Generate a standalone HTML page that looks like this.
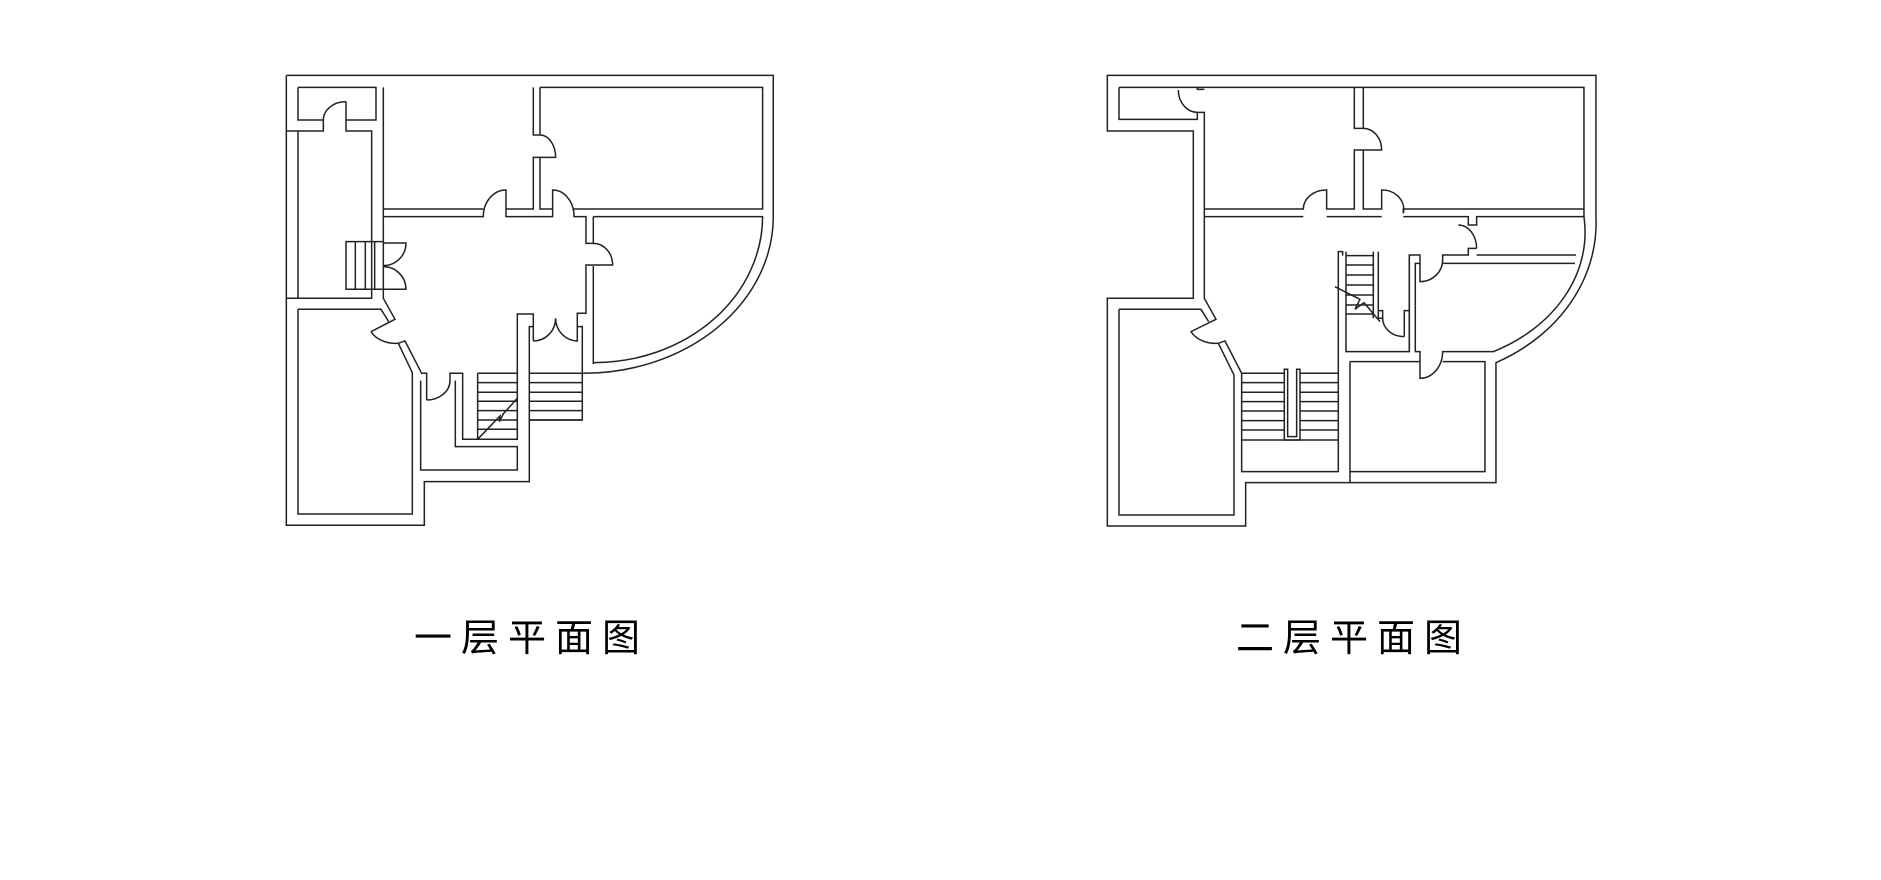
<!DOCTYPE html>
<html><head><meta charset="utf-8"><style>
html,body{margin:0;padding:0;background:#fff;}
svg{display:block;}
text{font-family:"Liberation Sans","Noto Sans CJK SC",sans-serif;}
path,line,rect{vector-effect:non-scaling-stroke;}
</style></head><body>
<svg width="1881" height="880" viewBox="0 0 1881 880" xmlns="http://www.w3.org/2000/svg">
<rect width="1881" height="880" fill="#fff"/>
<g transform="translate(270,60) scale(0.3333)" fill="none" stroke="#222" stroke-width="1.5">
<path d="M49,46 H1510 V470 A570,470 0 0 1 940,940"/>
<path d="M49,46 V1396 H463 V1265 H778 V800 H790 V843"/>
<path d="M49,213 H160 V180 M228,180 V213 H305 V715 H49 M84,82 H318 V180 H228 V125 M84,82 V180 H160 M160,180 A68,55 0 0 1 228,125"/>
<path d="M84,213 V715 M340,82 V545 M340,688 V715 L375,778 L303,815 M303,815 A82,60 0 0 0 385,850 L405,843 L455,940 H470 V1020 M470,1020 A70,58 0 0 0 540,962 V940 H578 V1138 H742 V762 H790 V800"/>
<path d="M84,748 H333 L356,785 M385,850 L427,938 V1362 H84 V748"/>
<path d="M452,962 V1230 H742 V1160 H556 V962"/>
<path d="M228,545 H340 V688 H228 Z M256,545 V688 M286,545 V688 M314,545 V688"/>
<path d="M340,549 H408 A68,68 0 0 1 340,617 M340,688 H408 A68,68 0 0 0 340,620"/>
<path d="M340,447 H640 M708,447 H790 V292 H857 A47,67 0 0 0 810,225 H790 V82 M810,82 V225 M810,292 V447 H848 M912,447 H1478 V82 H810"/>
<path d="M340,470 H640 A68,80 0 0 1 708,390 V470 H848 V390 A64,80 0 0 1 912,460 V470 H948 V550 H970 A58,65 0 0 1 1028,615 H948 V760 H922 V843 A67,68 0 0 1 857,775 A67,68 0 0 1 790,843"/>
<path d="M970,470 H1478 A506,440 0 0 1 975,908 L970,910 V618 M970,550 V470"/>
<path d="M922,800 H937 V1080 H778 M937,940 H940"/>
<path d="M623,940 H742 M623,968 H742 M623,997 H742 M623,1024 H742 M623,1052 H742 M623,1080 H742 M623,1108 H742 M623,940 V1138"/>
<path d="M778,940 H937 M778,968 H937 M778,997 H937 M778,1024 H937 M778,1052 H937 M778,1080 H937"/>
<path d="M623,1138 L690,1068 L688,1085 L700,1062 L697,1065 L742,1015"/>
</g>
<g transform="translate(1090,60) scale(0.3333)" fill="none" stroke="#222" stroke-width="1.5">
<path d="M52,46 H1518 V470 A550,470 0 0 1 1218,908 V1268 H467 V1398 H52 V715 H310 V213 H52 Z"/>
<path d="M87,82 H322 V88 H343 M87,82 V178 H322 V157 H343 V715 L378,778 L303,815 A82,60 0 0 0 385,850 L405,843 L455,940 V1235 H745 V575 H758 V587 M768,587 V875 H958 V585 H990 V665 A68,65 0 0 0 1058,600 V585 H1135 V565 H1160 M1160,565 A55,70 0 0 0 1105,495"/>
<path d="M265,90 A57,67 0 0 0 322,157 M322,82 H1482 V470"/>
<path d="M87,748 H333 L356,785 M385,850 L432,945 V1365 H87 V748"/>
<path d="M343,447 H640 A68,58 0 0 1 710,390 V447 H793 V270 H875 A55,65 0 0 0 820,205 H793 V82 M820,82 V205 M820,270 V447 H875 V390 A65,58 0 0 1 940,460 V447 H1482"/>
<path d="M343,470 H640 M710,470 H875 M940,470 H1135 V495 H1160 V470 H1482 A495,400 0 0 1 1210,875 H1058 A68,80 0 0 1 990,955 V875 H976 V610 H990 M1058,610 H1455 M1160,585 H1458 M958,585 V875"/>
<path d="M780,905 H990 M1058,905 H1185 V1235 H780 V905 M780,1235 V1268"/>
<path d="M455,940 H583 M630,940 H745 M455,968 H583 M630,968 H745 M455,997 H583 M630,997 H745 M455,1025 H583 M630,1025 H745 M455,1053 H583 M630,1053 H745 M455,1082 H583 M630,1082 H745 M455,1110 H583 M630,1110 H745 M455,1140 H745"/>
<path d="M583,928 V1140 H630 V928 H620 V1130 H593 V928 Z"/>
<path d="M768,575 V587 M850,575 V775 M865,575 V775 H878 V752 H865 M943,830 V752 H958"/>
<path d="M768,587 H850 M768,615 H850 M768,645 H850 M768,675 H850 M768,705 H850 M768,735 H850 M768,762 H850"/>
<path d="M878,775 A65,55 0 0 0 943,830"/>
<path d="M735,680 L810,718 L795,748 L822,728 L870,785"/>
</g>
<text x="414" y="651" font-size="38" letter-spacing="9">一层平面图</text>
<text x="1236" y="651" font-size="38" letter-spacing="9">二层平面图</text>
</svg>
</body></html>
